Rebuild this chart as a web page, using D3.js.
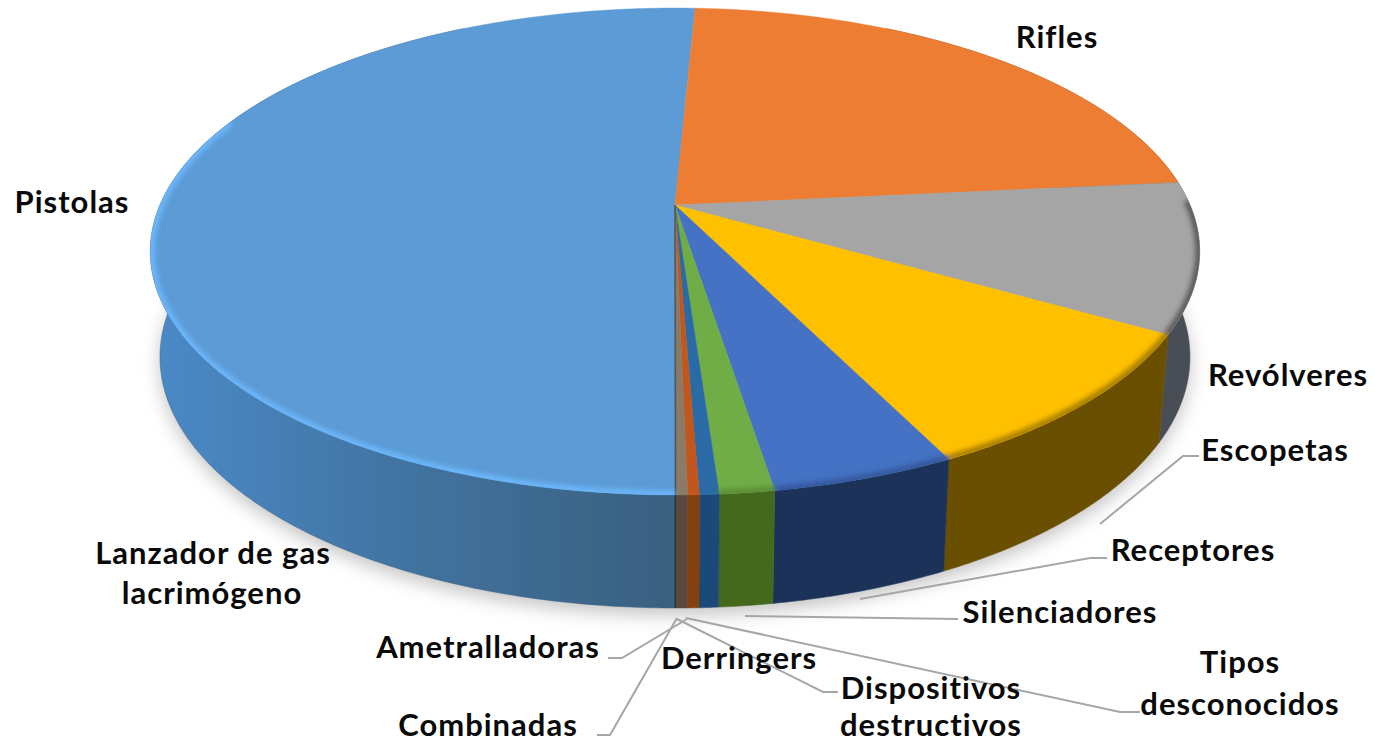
<!DOCTYPE html>
<html>
    <head>
        <meta charset="utf-8">
        <title>Tipos de armas</title>
        <script src="https://d3js.org/d3.v7.min.js"></script>
        <style>
            body { margin: 0; background: white; }
            text {
                font-family: Lato, "Open Sans", sans-serif;
                font-weight: 700;
                font-size: 31px;
                letter-spacing: 1px;
                fill: #0a0a0a;
            }
            .leader { fill: none; stroke: #a6a6a6; stroke-width: 2; }
        </style>
    </head>

    <body>
        <svg id="svg" width="1375" height="743"></svg>

        <script>
            // Data (percent of total)
            const categories = ["Pistolas", "Rifles", "Revólveres", "Escopetas", "Receptores", "Silenciadores",
                                "Tipos desconocidos", "Dispositivos destructivos", "Derringers",
                                "Combinadas", "Ametralladoras", "Lanzador de gas lacrimógeno"];
            const shares = [50.74, 22.7, 9.9, 9.4, 4.75, 1.4, 0.5, 0.29, 0.29, 0.01, 0.01, 0.01];

            // Slice colours: top face, side wall (light end), side wall (dark end)
            const topColors = ["#5b9bd5", "#ed7d31", "#a5a5a5", "#ffc000", "#4472c4", "#70ad47",
                               "#2a6aa6", "#c2571a", "#8a7a66", "#636363", "#997300", "#264478"];
            const wallLight = ["#4a8ac8", "#8a481c", "#565a60", "#6d5200", "#1f3864", "#4a7023",
                               "#1b4a78", "#84400f", "#5c4a3a", "#444444", "#5c4500", "#1a2e50"];
            const wallDark = ["#39607f", "#8a481c", "#4a4e55", "#6a5000", "#1e3358", "#44691f",
                              "#1b4a78", "#84400f", "#5c4a3a", "#444444", "#5c4500", "#1a2e50"];
            const bevelColors = ["#6cb6fa", null, "#5c5c5c", "#a87f00", "#35599f", "#5c8e36",
                                 null, null, null, null, null, null];

            // Labels, one entry per text line
            const labelLines = [
                ["Rifles", 1057, 48], ["Pistolas", 72, 213], ["Revólveres", 1288, 386],
                ["Escopetas", 1275, 461], ["Receptores", 1193, 561], ["Silenciadores", 1060, 623],
                ["Tipos", 1240, 673], ["desconocidos", 1240, 715],
                ["Dispositivos", 931, 699], ["destructivos", 931, 736],
                ["Derringers", 739, 669], ["Combinadas", 488, 736], ["Ametralladoras", 488, 658],
                ["Lanzador de gas", 213, 564], ["lacrimógeno", 212, 604]
            ];

            // Leader lines from label to slice
            const leaders = [
                [[1199, 456], [1183, 456], [1100, 524]],
                [[1107, 558], [1090, 558], [860, 599]],
                [[958, 619], [745, 616]],
                [[1140, 712], [1120, 712], [686, 618]],
                [[838, 692], [823, 692], [677, 619]],
                [[608, 658], [622, 658], [687, 619]],
                [[597, 735], [610, 735], [677, 618]]
            ];

            const svg = d3.select("svg#svg");
            const defs = svg.append("defs");

            // Perspective view of the disc: centre sits above the middle of the ellipse
            const tilt = 0.191;
            const topRim = { x0: 675, y0: 205, a: 515, b: 234.6 };
            const baseRim = { x0: 675, y0: 309, a: 505.5, b: 241.9 };

            function project(rim, angle) {
                const u = Math.sin(angle);
                const v = -Math.cos(angle);
                const w = 1 - tilt * v;
                return [rim.x0 + rim.a * u / w, rim.y0 + rim.b * v / w];
            }

            function arcPoints(rim, a0, a1) {
                const n = Math.max(2, Math.ceil((a1 - a0) / 0.01));
                return d3.range(n + 1).map(i => project(rim, a0 + (a1 - a0) * i / n));
            }

            const line = d3.line();
            const pie = d3.pie().sort(null).startAngle(Math.PI).endAngle(3 * Math.PI);
            const slices = pie(shares);

            // Filters
            const soft = defs.append("filter").attr("id", "soft")
                             .attr("x", "-5%").attr("y", "-5%").attr("width", "110%").attr("height", "110%");
            soft.append("feGaussianBlur").attr("stdDeviation", 0.7);
            const shadowBlur = defs.append("filter").attr("id", "shadowBlur")
                                   .attr("x", "-10%").attr("y", "-10%").attr("width", "120%").attr("height", "120%");
            shadowBlur.append("feGaussianBlur").attr("stdDeviation", 9);
            const rimBlur = defs.append("filter").attr("id", "rimBlur")
                                .attr("filterUnits", "userSpaceOnUse")
                                .attr("x", 0).attr("y", 0).attr("width", 1375).attr("height", 743);
            rimBlur.append("feGaussianBlur").attr("stdDeviation", 2.4);

            // Keeps the bevel on the top face
            defs.append("clipPath").attr("id", "topFace")
                .append("path")
                .attr("d", line(arcPoints(topRim, 0, 2 * Math.PI)) + "Z");

            // Soft shadow under the disc
            const fullBase = arcPoints(baseRim, 0, 2 * Math.PI);
            svg.append("path")
               .attr("d", line(fullBase) + "Z")
               .attr("transform", "translate(0,7)")
               .attr("fill", "#c4c4c4")
               .attr("filter", "url(#shadowBlur)");

            const chartArea = svg.append("g").attr("id", "chartArea").attr("filter", "url(#soft)");

            // Side walls, only the part of the rim facing the viewer
            const wallStart = 0.5;
            const wallEnd = 2 * Math.PI - 0.5;

            // Slice range on the 0..2pi circle; Pistolas runs past the top, so stop it at the wall end
            function wallRange(d) {
                let a0 = d.startAngle;
                let a1 = d.endAngle;
                if (a1 > 2 * Math.PI && a0 < 2 * Math.PI) { a1 = wallEnd; }
                if (a0 >= 2 * Math.PI) { a0 -= 2 * Math.PI; a1 -= 2 * Math.PI; }
                return [Math.max(a0, wallStart), Math.min(a1, wallEnd)];
            }

            slices.forEach((d, i) => {
                const [a0, a1] = wallRange(d);
                if (a1 <= a0) { return; }

                const gradient = defs.append("linearGradient")
                                     .attr("id", `wall${i}`)
                                     .attr("gradientUnits", "userSpaceOnUse")
                                     .attr("x1", 150).attr("x2", 675).attr("y1", 0).attr("y2", 0);
                gradient.append("stop").attr("offset", 0).attr("stop-color", wallLight[i]);
                gradient.append("stop").attr("offset", 0.5).attr("stop-color", d3.interpolateRgb(wallLight[i], wallDark[i])(0.55));
                gradient.append("stop").attr("offset", 1).attr("stop-color", wallDark[i]);

                const outline = arcPoints(topRim, a0, a1).concat(arcPoints(baseRim, a0, a1).reverse());
                chartArea.append("path")
                         .attr("d", line(outline) + "Z")
                         .attr("fill", `url(#wall${i})`)
                         .attr("stroke", wallDark[i])
                         .attr("stroke-width", 0.5);
            });

            // Top face wedges
            const centre = [topRim.x0, topRim.y0];
            slices.forEach((d, i) => {
                const wedge = [centre].concat(arcPoints(topRim, d.startAngle, d.endAngle));
                chartArea.append("path")
                         .attr("d", line(wedge) + "Z")
                         .attr("fill", topColors[i])
                         .attr("stroke", topColors[i])
                         .attr("stroke-width", 0.4);
            });

            // Bevel along the front rim, inside the top face
            const bevel = chartArea.append("g")
                                   .attr("clip-path", "url(#topFace)")
                                   .append("g")
                                   .attr("filter", "url(#rimBlur)");
            slices.forEach((d, i) => {
                if (!bevelColors[i]) { return; }
                const [a0, a1] = wallRange(d);
                const from = Math.max(a0, 1.55);
                const to = Math.min(a1, 5.1);
                if (to <= from) { return; }
                bevel.append("path")
                     .attr("d", line(arcPoints(topRim, from, to)))
                     .attr("fill", "none")
                     .attr("stroke", bevelColors[i])
                     .attr("stroke-width", 9);
            });

            // Leader lines
            svg.append("g").selectAll("path")
               .data(leaders)
               .join("path")
               .attr("class", "leader")
               .attr("d", d => line(d));

            // Labels
            svg.append("g").selectAll("text")
               .data(labelLines)
               .join("text")
               .attr("x", d => d[1])
               .attr("y", d => d[2])
               .attr("text-anchor", "middle")
               .text(d => d[0]);
        </script>
    </body>
</html>
